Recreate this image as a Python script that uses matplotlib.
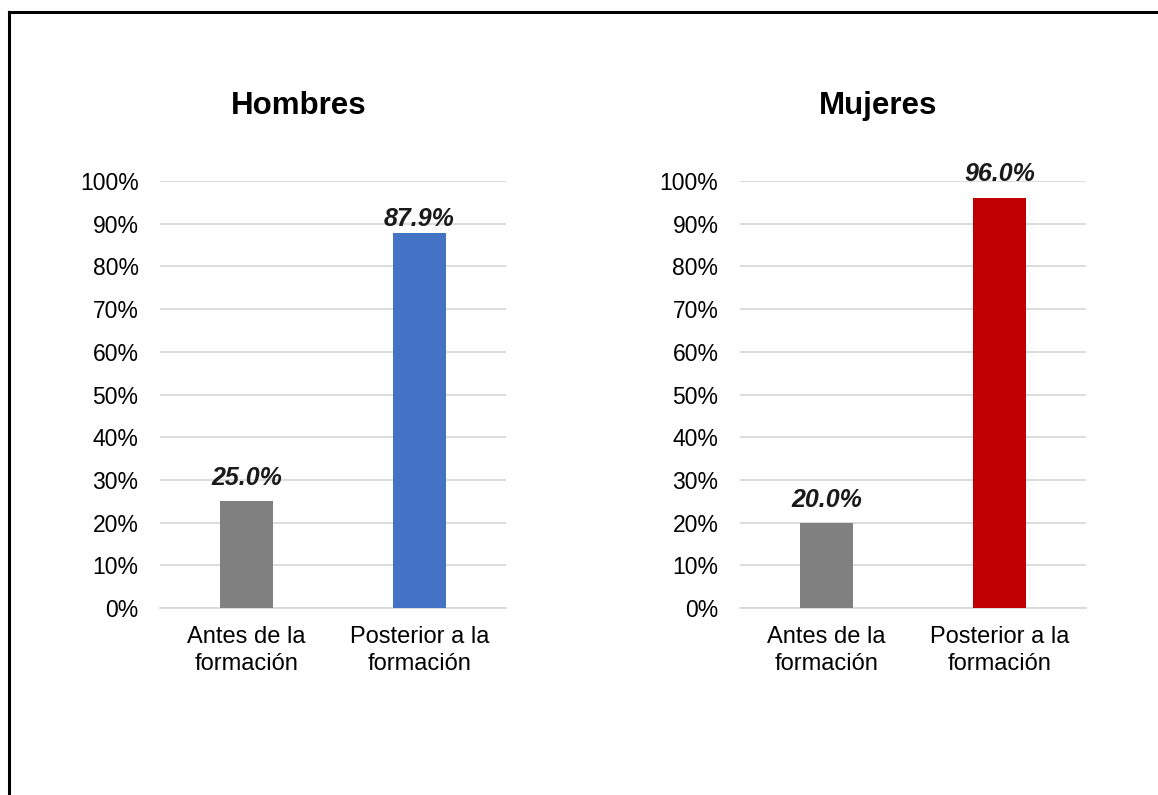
import matplotlib
matplotlib.use("Agg")
import matplotlib.pyplot as plt
from matplotlib.lines import Line2D
from matplotlib.ticker import FuncFormatter

plt.rcParams["font.family"] = ["Liberation Sans", "DejaVu Sans"]

# Data
categories = ["Antes de la\nformación", "Posterior a la\nformación"]
hombres = [25.0, 87.9]
mujeres = [20.0, 96.0]
panel_titles = ["Hombres", "Mujeres"]
yticks = list(range(0, 101, 10))

GRAY = "#808080"
BLUE = "#4472C4"
RED = "#C00000"
GRID = "#d9d9d9"

fig = plt.figure(figsize=(11.58, 7.95), dpi=100)

# (values, bar colours, axes left, title x, title, label lift in points)
panels = [
    (hombres, [GRAY, BLUE], 0.1382, 0.258, panel_titles[0], [12, 4.5]),
    (mujeres, [GRAY, RED], 0.639, 0.758, panel_titles[1], [11.5, 12]),
]

for values, colors, left, title_x, title, lifts in panels:
    ax = fig.add_axes([left, 0.2352, 0.2988, 0.5371])
    x = range(len(categories))
    ax.bar(x, values, width=0.31, color=colors, zorder=3)
    ax.set_xlim(-0.5, 1.5)
    ax.set_ylim(0, 100)
    ax.set_yticks(yticks)
    ax.yaxis.set_major_formatter(FuncFormatter(lambda v, p: f"{v:.0f}%"))
    ax.set_xticks(list(x))
    ax.set_xticklabels(categories, fontsize=17, linespacing=1.3)
    ax.tick_params(axis="y", length=0, pad=15.5, labelsize=16.5, labelcolor="#000000")
    ax.tick_params(axis="x", length=0, pad=13, labelcolor="#000000")
    ax.grid(axis="y", color=GRID, linewidth=1.3, zorder=0)
    for side in ["top", "right", "left"]:
        ax.spines[side].set_visible(False)
    ax.spines["bottom"].set_color(GRID)
    ax.spines["bottom"].set_linewidth(1.3)
    ax.spines["bottom"].set_zorder(1)
    for xi, v, lift in zip(x, values, lifts):
        ax.annotate(f"{v:.1f}%", (xi, v), xytext=(0, lift), textcoords="offset points",
                    ha="center", va="baseline", fontsize=18, fontweight="bold",
                    fontstyle="italic", color="#1a1a1a")
    fig.text(title_x, 0.8665, title, ha="center", va="center",
             fontsize=22.5, fontweight="bold")

# Frame lines visible at the top and left of the original picture
fig.add_artist(Line2D([9 / 1158, 1.0], [1 - 12 / 795, 1 - 12 / 795],
                      transform=fig.transFigure, color="black", linewidth=2.2))
fig.add_artist(Line2D([9 / 1158, 9 / 1158], [0.0, 1 - 12 / 795],
                      transform=fig.transFigure, color="black", linewidth=2.2))

fig.savefig("out.png", dpi=100, facecolor="white")
